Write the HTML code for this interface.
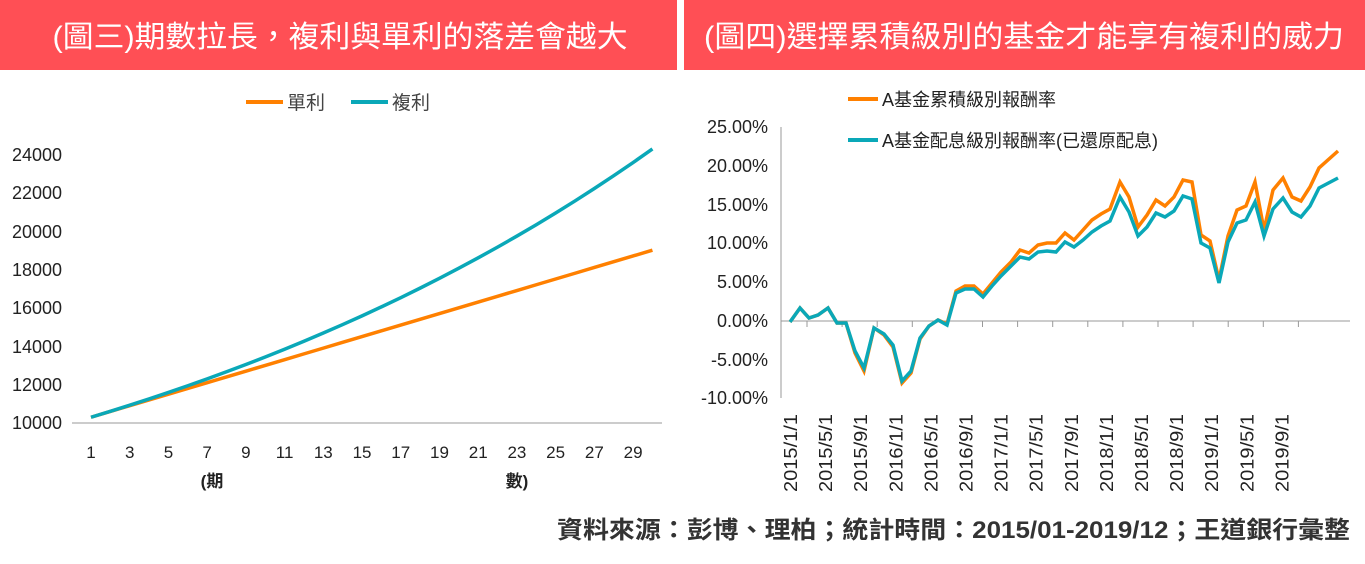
<!DOCTYPE html>
<html><head><meta charset="utf-8"><style>
body{margin:0;width:1365px;height:559px;background:#fff;overflow:hidden;font-family:"Liberation Sans","Noto Sans CJK TC",sans-serif;}
</style></head><body>
<svg width="1365" height="559" xmlns="http://www.w3.org/2000/svg" style="font-family:'Liberation Sans','Noto Sans CJK TC',sans-serif">
<rect x="0" y="0" width="677" height="70" fill="#FF4F55"/>
<rect x="684" y="0" width="681" height="70" fill="#FF4F55"/>
<text x="340" y="47" text-anchor="middle" fill="#fff" font-size="30" textLength="575" lengthAdjust="spacingAndGlyphs">(圖三)期數拉長，複利與單利的落差會越大</text>
<text x="1024" y="47" text-anchor="middle" fill="#fff" font-size="30" textLength="640" lengthAdjust="spacingAndGlyphs">(圖四)選擇累積級別的基金才能享有複利的威力</text>
<line x1="246" y1="102" x2="283" y2="102" stroke="#FF8000" stroke-width="4"/>
<text x="287" y="109" font-size="19" fill="#444">單利</text>
<line x1="351" y1="102" x2="388" y2="102" stroke="#0AA8B8" stroke-width="4"/>
<text x="392" y="109" font-size="19" fill="#444">複利</text>
<g font-size="18" fill="#222" text-anchor="end">
<text x="62" y="161">24000</text><text x="62" y="199">22000</text><text x="62" y="238">20000</text>
<text x="62" y="276">18000</text><text x="62" y="314">16000</text><text x="62" y="353">14000</text>
<text x="62" y="391">12000</text><text x="62" y="429">10000</text>
</g>
<line x1="72" y1="423" x2="662" y2="423" stroke="#999" stroke-width="1"/>
<g font-size="17" fill="#222" text-anchor="middle" id="xl"></g>
<text x="212" y="487" font-size="17" font-weight="bold" fill="#222" text-anchor="middle">(期</text>
<text x="517" y="487" font-size="17" font-weight="bold" fill="#222" text-anchor="middle">數)</text>
<polyline id="simp" fill="none" stroke="#FF8000" stroke-width="3.5"/>
<polyline id="comp" fill="none" stroke="#0AA8B8" stroke-width="3.5"/>
<line x1="848" y1="99" x2="878" y2="99" stroke="#FF8000" stroke-width="4"/>
<text x="882" y="106" font-size="18" fill="#222">A基金累積級別報酬率</text>
<line x1="848" y1="140" x2="878" y2="140" stroke="#0AA8B8" stroke-width="4"/>
<text x="882" y="147" font-size="18" fill="#222">A基金配息級別報酬率(已還原配息)</text>
<g font-size="18" fill="#222" text-anchor="end">
<text x="768" y="133">25.00%</text><text x="768" y="172">20.00%</text><text x="768" y="211">15.00%</text>
<text x="768" y="249">10.00%</text><text x="768" y="288">5.00%</text><text x="768" y="327">0.00%</text>
<text x="768" y="366">-5.00%</text><text x="768" y="404">-10.00%</text>
</g>
<line x1="781" y1="127" x2="781" y2="398" stroke="#999"/>
<g stroke="#999" id="rt"></g>
<line x1="781" y1="321" x2="1350" y2="321" stroke="#999"/>
<g font-size="18" fill="#222" id="rl"></g>
<polyline fill="none" stroke="#FF8000" stroke-width="3.5" points="790,322 800,308 809,318 818,315 828,308 837,323 846,323 855,353 864,371 874,328 884,335 893,347 902,383 911,373 920,339 929,326 938,320 947,324 956,291 965,286 974,286 983,294 992,283 1001,272 1011,262 1020,250 1029,253 1038,245 1047,243 1056,243 1065,233 1074,240 1083,230 1092,220 1101,214 1110,209 1120,182 1129,197 1138,227 1147,215 1156,200 1165,206 1174,197 1183,180 1192,182 1201,235 1210,241 1219,280 1228,236 1237,210 1246,206 1255,182 1264,230 1273,190 1283,178 1292,197 1301,201 1310,187 1319,168 1338,151"/>
<polyline fill="none" stroke="#0AA8B8" stroke-width="3.5" points="790,322 800,308 809,318 818,315 828,308 837,323 846,323 855,351 864,368 874,328 884,334 893,345 902,381 911,371 920,338 929,326 938,320 947,325 956,293 965,289 974,289 983,297 992,286 1001,276 1011,266 1020,257 1029,259 1038,252 1047,251 1056,252 1065,242 1074,247 1083,240 1092,232 1101,226 1110,221 1120,197 1129,212 1138,236 1147,227 1156,213 1165,217 1174,211 1183,196 1192,199 1201,243 1210,248 1219,283 1228,242 1237,223 1246,220 1255,202 1264,236 1273,209 1283,198 1292,212 1301,217 1310,206 1319,188 1338,178"/>
<text x="1350" y="538" text-anchor="end" font-size="24" font-weight="bold" fill="#333" textLength="793" lengthAdjust="spacingAndGlyphs">資料來源：彭博、理柏；統計時間：2015/01-2019/12；王道銀行彙整</text>
</svg>
<script>
var ns="http://www.w3.org/2000/svg";
function X(p){return 91+(p-1)*19.36;}
function Y(v){return 423-(v-10000)*38.4/2000;}
var s=[],c=[];
for(var p=1;p<=30;p++){s.push(X(p)+","+Y(10000+300*p));c.push(X(p)+","+Y(10000*Math.pow(1.03,p)));}
document.getElementById("simp").setAttribute("points",s.join(" "));
document.getElementById("comp").setAttribute("points",c.join(" "));
var xl=document.getElementById("xl");
for(var p=1;p<=29;p+=2){var t=document.createElementNS(ns,"text");t.setAttribute("x",X(p));t.setAttribute("y",458);t.textContent=p;xl.appendChild(t);}
var labs=["2015/1/1","2015/5/1","2015/9/1","2016/1/1","2016/5/1","2016/9/1","2017/1/1","2017/5/1","2017/9/1","2018/1/1","2018/5/1","2018/9/1","2019/1/1","2019/5/1","2019/9/1"];
var rl=document.getElementById("rl"),rt=document.getElementById("rt");
for(var i=0;i<labs.length;i++){var x=790+i*35.1;
var t=document.createElementNS(ns,"text");t.setAttribute("transform","translate("+(x+7)+",492) rotate(-90)");t.setAttribute("textLength","78");t.setAttribute("lengthAdjust","spacingAndGlyphs");t.textContent=labs[i];rl.appendChild(t);
var l=document.createElementNS(ns,"line");l.setAttribute("x1",x+17);l.setAttribute("x2",x+17);l.setAttribute("y1",321);l.setAttribute("y2",327);rt.appendChild(l);}
</script>
</body></html>
